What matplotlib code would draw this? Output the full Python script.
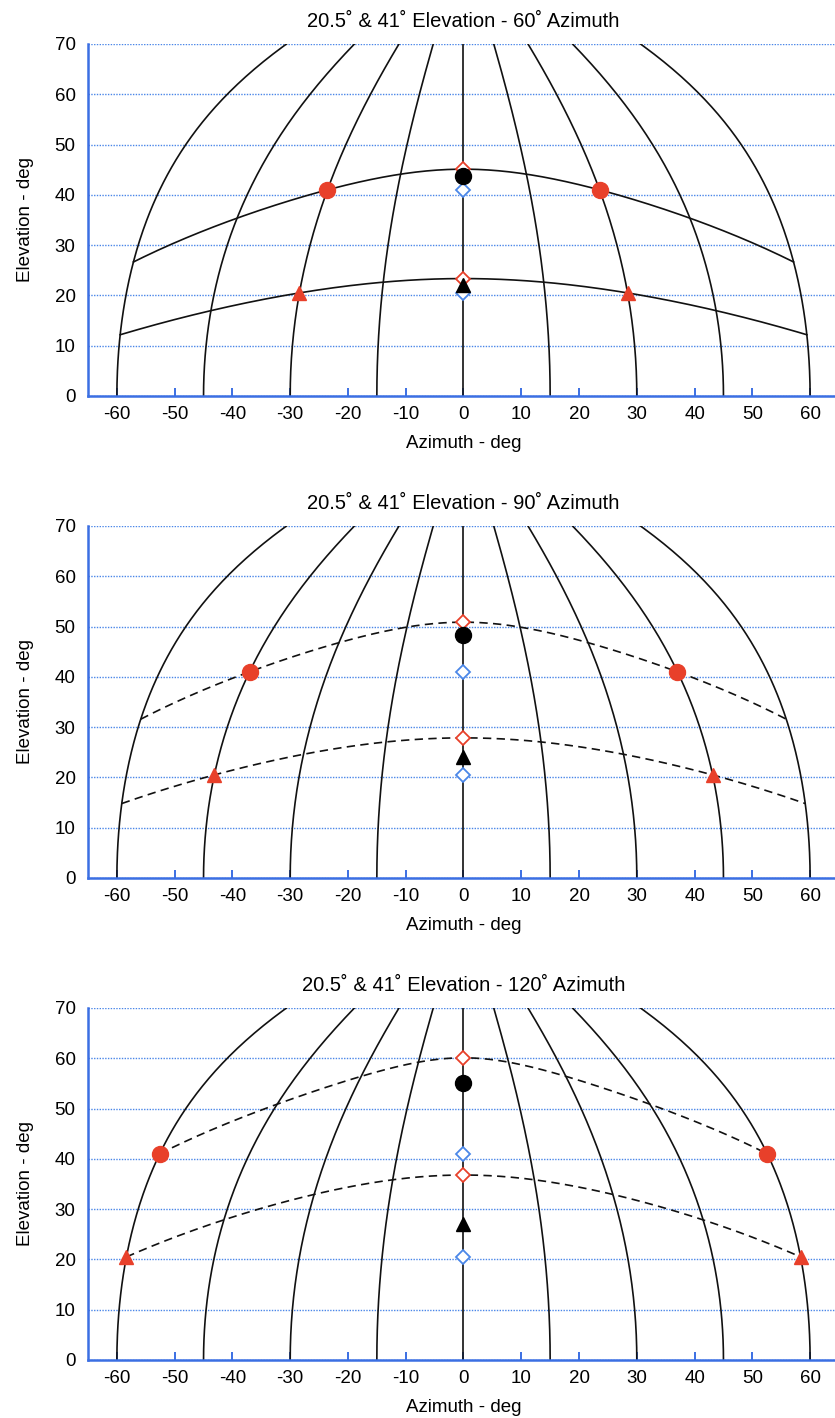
#!/usr/bin/env python3

import numpy as np
import matplotlib
matplotlib.use("Agg")
import matplotlib.pyplot as plt


# meridians (world azimuth, deg) drawn in every panel
l_meridian_az = [-60, -45, -30, -15, 0, 15, 30, 45, 60]
# the two target elevations (deg)
l_point_el = [20.5, 41.0]
# azimuth spread per panel (deg) -> points sit at +/- half of it
l_spread_az = [60, 90, 120]
# black markers on the centre line
l_black_circle_el = [43.7, 48.4, 55.0]
l_black_tri_el = [22.0, 24.0, 27.0]
# tick positions
l_xticks = [-60, -50, -40, -30, -20, -10, 0, 10, 20, 30, 40, 50, 60]
l_yticks = [0, 10, 20, 30, 40, 50, 60, 70]

S_RED = "#e8402a"
S_BLUE = "#4a86e8"
S_AXBLUE = "#3b6fe3"

plt.rcParams['font.family'] = ['Liberation Sans', 'DejaVu Sans']
plt.rcParams['axes.unicode_minus'] = False


def proj_x(na_az, na_el):
    # displayed azimuth of a point at world (az, el)
    return np.degrees(np.arctan(np.tan(np.radians(na_az)) * np.cos(np.radians(na_el))))
#


def great_circle_el(na_az, f_el0, f_half):
    # elevation along the great circle through (+/-f_half, f_el0)
    f_k = np.tan(np.radians(f_el0)) / np.cos(np.radians(f_half))
    return np.degrees(np.arctan(f_k * np.cos(np.radians(na_az))))
#


def draw_panel(ax, i_panel):
    f_half = l_spread_az[i_panel] / 2.0
    s_ls = '-' if i_panel == 0 else (0, (5, 3.2))

    # meridians
    na_el = np.linspace(0, 70, 141)
    for f_az in l_meridian_az:
        ax.plot(proj_x(f_az, na_el), na_el, color='#111111', lw=1.2, zorder=2)

    # great circles through the two points
    na_az = np.linspace(-60, 60, 241)
    for f_el0 in l_point_el:
        na_gc = great_circle_el(na_az, f_el0, f_half)
        ax.plot(proj_x(na_az, na_gc), na_gc, color='#111111', lw=1.2, ls=s_ls, zorder=2)

    # red points at +/- half spread
    na_pts = np.array([-f_half, f_half])
    ax.plot(proj_x(na_pts, l_point_el[1]), [l_point_el[1]] * 2, 'o', color=S_RED,
            ms=11.5, mec=S_RED, zorder=4)
    ax.plot(proj_x(na_pts, l_point_el[0]), [l_point_el[0]] * 2, '^', color=S_RED,
            ms=10.5, mec=S_RED, zorder=4)

    # centre-line markers
    l_peak = [great_circle_el(0.0, f_el0, f_half) for f_el0 in l_point_el]
    ax.plot([0, 0], l_peak, 'D', mfc='white', mec=S_RED, mew=1.3, ms=7.5, zorder=4)
    ax.plot([0, 0], l_point_el, 'D', mfc='white', mec=S_BLUE, mew=1.3, ms=7.5, zorder=4)
    ax.plot([0], [l_black_circle_el[i_panel]], 'o', color='black', ms=11.5, zorder=5)
    ax.plot([0], [l_black_tri_el[i_panel]], '^', color='black', ms=10.5, zorder=5)

    ax.set_xlim(-65, 65)
    ax.set_ylim(0, 70)
    ax.set_xticks(l_xticks)
    ax.set_yticks(l_yticks)
    ax.tick_params(axis='x', direction='in', length=6, width=1.4, color=S_AXBLUE,
                   labelsize=13.5, labelcolor='black', pad=7)
    ax.tick_params(axis='y', direction='in', length=0, labelsize=13.5,
                   labelcolor='black', pad=9)
    for s in ('top', 'right'):
        ax.spines[s].set_visible(False)
    for s in ('left', 'bottom'):
        ax.spines[s].set_color(S_AXBLUE)
        ax.spines[s].set_linewidth(1.8)
    ax.yaxis.grid(True, color=S_BLUE, ls=(0, (1, 1)), lw=1.0)
    ax.set_axisbelow(True)
    ax.set_xlabel("Azimuth - deg", fontsize=13.5, labelpad=9)
    ax.set_ylabel("Elevation - deg", fontsize=13.5, labelpad=15)
    ax.set_title("20.5˚ & 41˚ Elevation - %d˚ Azimuth" % l_spread_az[i_panel],
                 fontsize=14.5, pad=12)
#


if __name__ == '__main__':
    i_w, i_h = 835, 1418
    fig = plt.figure(figsize=(i_w / 100.0, i_h / 100.0), dpi=100)
    l_tops = [44, 526, 1008]
    i_ax_h = 352
    for i, i_top in enumerate(l_tops):
        ax = fig.add_axes([88.0 / i_w, (i_h - i_top - i_ax_h) / float(i_h),
                           (839.0 - 88.0) / i_w, i_ax_h / float(i_h)])
        draw_panel(ax, i)
    fig.savefig("out.png", dpi=100)
#
